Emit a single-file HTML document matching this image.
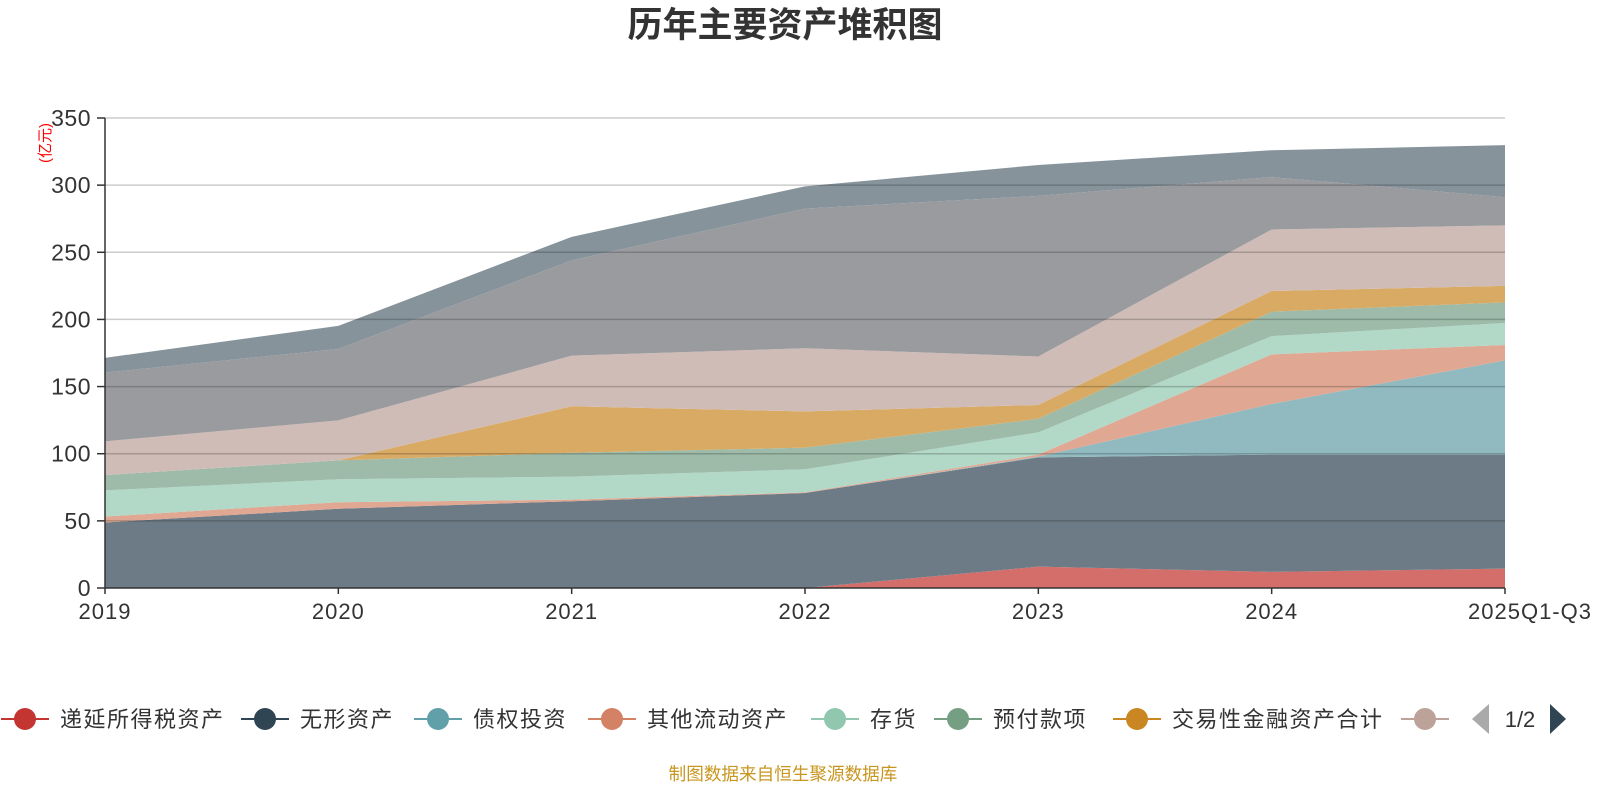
<!DOCTYPE html>
<html><head><meta charset="utf-8">
<style>
body{margin:0;background:#fff;width:1600px;height:800px;overflow:hidden;font-family:"Liberation Sans","Noto Sans CJK SC",sans-serif;}
</style></head>
<body>
<svg id="chart" width="1600" height="800" xmlns="http://www.w3.org/2000/svg" font-family="Liberation Sans, Noto Sans CJK SC, sans-serif">
<text x="785" y="37" text-anchor="middle" font-size="35" font-weight="bold" fill="#333">历年主要资产堆积图</text>
<text transform="translate(50,143) rotate(-90)" text-anchor="middle" font-size="15" fill="#ff0000">(亿元)</text>
<g id="areas"></g>
<g id="grid"></g>
<g id="axes"></g>
<g id="legend"></g>
<text x="783" y="780" text-anchor="middle" font-size="17.6" fill="#c8961e">制图数据来自恒生聚源数据库</text>
</svg>
<script>
const categories = ["2019","2020","2021","2022","2023","2024","2025Q1-Q3"];
const seriesNames = ["递延所得税资产","无形资产","债权投资","其他流动资产","存货","预付款项","交易性金融资产合计","其他资产A","其他资产B","其他资产C"];
const sDeferredTax = [0,0,0,0,15.9,12,14.4];
const sIntangible = [48.8,59,64.6,70.7,81.4,87.3,84.9];
const sDebtInvest = [0,0,0,0,0.5,37.7,70.2];
const sOtherCurrent = [4.4,4.9,1.2,0.5,1.5,37,11.5];
const sInventory = [19.5,17.1,17.1,17.2,16.6,13.6,16.3];
const sPrepaid = [11.4,14,17.8,16.1,10.1,18.2,15.4];
const sTrading = [0,0,34.6,27,10.3,15.4,12.3];
const sOtherA = [25.1,29.8,37.7,47,36.1,45.8,45];
const sOtherB = [51.2,53.2,71,104,119.6,39,21];
const sOtherC = [11,17.2,17.5,16.6,23,20,38.8];
const yTicks = [0,50,100,150,200,250,300,350];
const allSeries = [sDeferredTax,sIntangible,sDebtInvest,sOtherCurrent,sInventory,sPrepaid,sTrading,sOtherA,sOtherB,sOtherC];
const fills = ["#d46e6a","#6d7b86","#90babf","#e0a792","#b2d8c7","#9dbba8","#d8aa63","#d0bcb6","#9a9b9f","#86939b"];
const legendColors = ["#c23531","#2f4554","#61a0a8","#d48265","#91c7ae","#749f83","#ca8622","#bda29a"];
const NS="http://www.w3.org/2000/svg";
const X0=105,X1=1505,Y0=588,Y1=118,YMAX=350;
const xs=i=>X0+(X1-X0)*i/(categories.length-1);
const ys=v=>Y0-(Y0-Y1)*v/YMAX;
function mk(tag,attrs,parent){const e=document.createElementNS(NS,tag);for(const k in attrs)e.setAttribute(k,attrs[k]);parent.appendChild(e);return e;}
const areas=document.getElementById('areas');
let base=categories.map(()=>0);
allSeries.forEach((s,si)=>{
  const top=base.map((b,i)=>b+s[i]);
  let d="M"+categories.map((c,i)=>xs(i)+","+ys(top[i])).join(" L");
  for(let i=categories.length-1;i>=0;i--) d+=" L"+xs(i)+","+ys(base[i]);
  d+=" Z";
  const p=mk('path',{d:d,fill:fills[si]},areas);
  
  
  base=top;
});
const grid=document.getElementById('grid');
const axes=document.getElementById('axes');
yTicks.forEach(t=>{
  const y=ys(t);
  if(t>0){const l=mk('line',{x1:X0,x2:X1,y1:y,y2:y,stroke:"rgba(0,0,0,0.2)","stroke-width":1.5},grid);
  
  }
  mk('line',{x1:X0-8,x2:X0,y1:y,y2:y,stroke:"#333","stroke-width":1.5},axes);
  const tx=mk('text',{x:X0-14,y:y+8,"text-anchor":"end","font-size":23,"letter-spacing":"0.5",fill:"#333"},axes);
  tx.textContent=t;
  
  
});
mk('line',{x1:X0,x2:X0,y1:Y1,y2:Y0,stroke:"#333","stroke-width":1.5},axes);
mk('line',{x1:X0,x2:X1,y1:Y0,y2:Y0,stroke:"#333","stroke-width":1.5},axes);
categories.forEach((c,i)=>{
  mk('line',{x1:xs(i),x2:xs(i),y1:Y0,y2:Y0+6,stroke:"#333","stroke-width":1.5},axes);
  const tx=mk('text',{x:xs(i)+(i===categories.length-1?25:0),y:Y0+31,"text-anchor":"middle","font-size":22,"letter-spacing":"1",fill:"#333"},axes);
  tx.textContent=c;
  
  
});
const legend=document.getElementById('legend');
const legX=[25,265,438,612,835,958,1137,1425];
legX.forEach((cx,i)=>{
  const g=mk('g',{},legend);
  
  
  mk('line',{x1:cx-24,x2:cx+24,y1:719,y2:719,stroke:legendColors[i],"stroke-width":2},g);
  mk('circle',{cx:cx,cy:719,r:11,fill:legendColors[i]},g);
  if(i<7){const t=mk('text',{x:cx+35,y:727,"font-size":22,"letter-spacing":"1.5",fill:"#333"},g);t.textContent=seriesNames[i];}
});
const prev=mk('path',{d:"M1472,719 L1489,704 L1489,734 Z",fill:"#aaa"},legend);


const pg=mk('text',{x:1520,y:727,"text-anchor":"middle","font-size":22,fill:"#333"},legend);
pg.textContent="1/2";


const next=mk('path',{d:"M1566,719 L1550,704 L1550,734 Z",fill:"#2f4554"},legend);


</script>
</body></html>
